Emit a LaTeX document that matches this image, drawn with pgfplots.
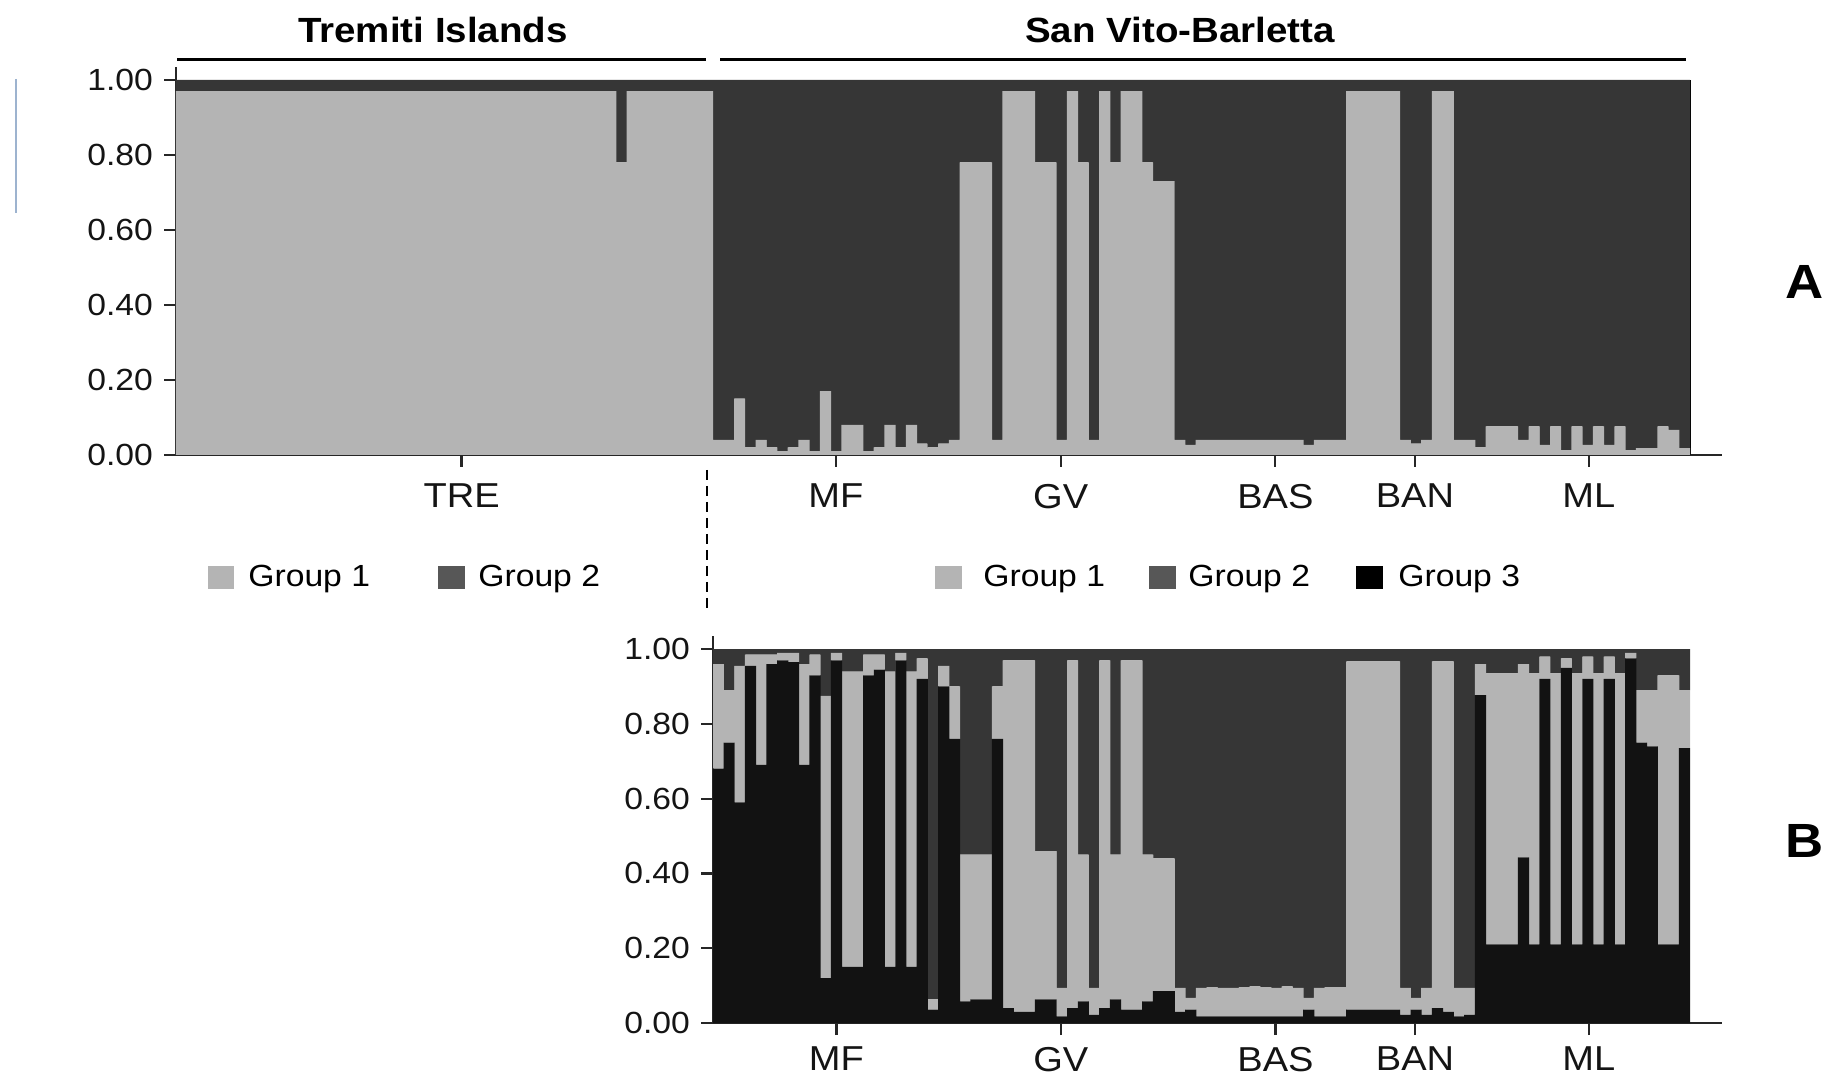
\documentclass[border=0pt]{standalone}
\usepackage{fontspec}
\setmainfont{Liberation Sans}[FakeStretch=1.1]
\usepackage{pgfplots}
\usepackage{pgfplotstable}
\pgfplotsset{compat=1.18}
\definecolor{gA}{HTML}{B4B4B4}
\definecolor{gB}{HTML}{363636}
\definecolor{gC}{HTML}{121212}
\definecolor{gBleg}{HTML}{575757}
\definecolor{axcol}{HTML}{262626}
\definecolor{bluish}{HTML}{9DB3CF}

% top panel: individual, Group 1, Group 2
\pgfplotstableread{
x g1 g2
0 0.97 0.03
1 0.97 0.03
2 0.97 0.03
3 0.97 0.03
4 0.97 0.03
5 0.97 0.03
6 0.97 0.03
7 0.97 0.03
8 0.97 0.03
9 0.97 0.03
10 0.97 0.03
11 0.97 0.03
12 0.97 0.03
13 0.97 0.03
14 0.97 0.03
15 0.97 0.03
16 0.97 0.03
17 0.97 0.03
18 0.97 0.03
19 0.97 0.03
20 0.97 0.03
21 0.97 0.03
22 0.97 0.03
23 0.97 0.03
24 0.97 0.03
25 0.97 0.03
26 0.97 0.03
27 0.97 0.03
28 0.97 0.03
29 0.97 0.03
30 0.97 0.03
31 0.97 0.03
32 0.97 0.03
33 0.97 0.03
34 0.97 0.03
35 0.97 0.03
36 0.97 0.03
37 0.97 0.03
38 0.97 0.03
39 0.97 0.03
40 0.97 0.03
41 0.78 0.22
42 0.97 0.03
43 0.97 0.03
44 0.97 0.03
45 0.97 0.03
46 0.97 0.03
47 0.97 0.03
48 0.97 0.03
49 0.97 0.03
50 0.04 0.96
51 0.04 0.96
52 0.15 0.85
53 0.02 0.98
54 0.04 0.96
55 0.02 0.98
56 0.01 0.99
57 0.02 0.98
58 0.04 0.96
59 0.01 0.99
60 0.17 0.83
61 0.01 0.99
62 0.08 0.92
63 0.08 0.92
64 0.01 0.99
65 0.02 0.98
66 0.08 0.92
67 0.02 0.98
68 0.08 0.92
69 0.03 0.97
70 0.02 0.98
71 0.03 0.97
72 0.04 0.96
73 0.78 0.22
74 0.78 0.22
75 0.78 0.22
76 0.04 0.96
77 0.97 0.03
78 0.97 0.03
79 0.97 0.03
80 0.78 0.22
81 0.78 0.22
82 0.04 0.96
83 0.97 0.03
84 0.78 0.22
85 0.04 0.96
86 0.97 0.03
87 0.78 0.22
88 0.97 0.03
89 0.97 0.03
90 0.78 0.22
91 0.73 0.27
92 0.73 0.27
93 0.04 0.96
94 0.027 0.973
95 0.04 0.96
96 0.04 0.96
97 0.04 0.96
98 0.04 0.96
99 0.04 0.96
100 0.04 0.96
101 0.04 0.96
102 0.04 0.96
103 0.04 0.96
104 0.04 0.96
105 0.027 0.973
106 0.04 0.96
107 0.04 0.96
108 0.04 0.96
109 0.97 0.03
110 0.97 0.03
111 0.97 0.03
112 0.97 0.03
113 0.97 0.03
114 0.04 0.96
115 0.03 0.97
116 0.04 0.96
117 0.97 0.03
118 0.97 0.03
119 0.04 0.96
120 0.04 0.96
121 0.02 0.98
122 0.076 0.924
123 0.076 0.924
124 0.076 0.924
125 0.04 0.96
126 0.076 0.924
127 0.027 0.973
128 0.076 0.924
129 0.013 0.987
130 0.076 0.924
131 0.027 0.973
132 0.076 0.924
133 0.027 0.973
134 0.076 0.924
135 0.013 0.987
136 0.018 0.982
137 0.018 0.982
138 0.076 0.924
139 0.067 0.933
140 0.018 0.982
}\topdata

% bottom panel: individual, Group 3 (black), Group 1 (light), Group 2 (dark)
\pgfplotstableread{
x g3 g1 g2
0 0.68 0.28 0.04
1 0.75 0.14 0.11
2 0.59 0.365 0.045
3 0.955 0.03 0.015
4 0.69 0.295 0.015
5 0.96 0.025 0.015
6 0.97 0.02 0.01
7 0.965 0.025 0.01
8 0.69 0.27 0.04
9 0.93 0.055 0.015
10 0.12 0.755 0.125
11 0.97 0.02 0.01
12 0.15 0.79 0.06
13 0.15 0.79 0.06
14 0.93 0.055 0.015
15 0.945 0.04 0.015
16 0.15 0.79 0.06
17 0.97 0.02 0.01
18 0.15 0.79 0.06
19 0.92 0.055 0.025
20 0.036 0.027 0.937
21 0.90 0.055 0.045
22 0.76 0.14 0.10
23 0.058 0.392 0.55
24 0.063 0.387 0.55
25 0.063 0.387 0.55
26 0.76 0.14 0.10
27 0.04 0.93 0.03
28 0.03 0.94 0.03
29 0.03 0.94 0.03
30 0.063 0.397 0.54
31 0.063 0.397 0.54
32 0.018 0.076 0.906
33 0.04 0.93 0.03
34 0.058 0.392 0.55
35 0.022 0.072 0.906
36 0.04 0.93 0.03
37 0.063 0.387 0.55
38 0.036 0.934 0.03
39 0.036 0.934 0.03
40 0.058 0.392 0.55
41 0.085 0.355 0.56
42 0.085 0.355 0.56
43 0.03 0.064 0.906
44 0.036 0.031 0.933
45 0.018 0.076 0.906
46 0.018 0.078 0.904
47 0.018 0.076 0.906
48 0.018 0.076 0.906
49 0.018 0.078 0.904
50 0.018 0.08 0.902
51 0.018 0.078 0.904
52 0.018 0.076 0.906
53 0.018 0.08 0.902
54 0.018 0.076 0.906
55 0.036 0.031 0.933
56 0.018 0.076 0.906
57 0.018 0.078 0.904
58 0.018 0.078 0.904
59 0.036 0.931 0.033
60 0.036 0.931 0.033
61 0.036 0.931 0.033
62 0.036 0.931 0.033
63 0.036 0.931 0.033
64 0.022 0.072 0.906
65 0.036 0.031 0.933
66 0.022 0.072 0.906
67 0.04 0.927 0.033
68 0.03 0.937 0.033
69 0.018 0.076 0.906
70 0.022 0.072 0.906
71 0.877 0.083 0.04
72 0.21 0.725 0.065
73 0.21 0.725 0.065
74 0.21 0.725 0.065
75 0.443 0.517 0.04
76 0.21 0.725 0.065
77 0.92 0.06 0.02
78 0.21 0.725 0.065
79 0.95 0.025 0.025
80 0.21 0.725 0.065
81 0.92 0.06 0.02
82 0.21 0.725 0.065
83 0.92 0.06 0.02
84 0.21 0.725 0.065
85 0.975 0.015 0.01
86 0.75 0.14 0.11
87 0.74 0.15 0.11
88 0.21 0.72 0.07
89 0.21 0.72 0.07
90 0.735 0.155 0.11
}\botdata

\pgfplotsset{
  struct/.style={
    scale only axis, ybar stacked, bar width=1.04, bar shift=0pt,
    ymin=0, ymax=1.035, enlargelimits=false,
    axis x line*=bottom, axis y line*=left,
    axis line style={line width=1.2pt, color=axcol},
    tick align=outside, major tick length=6pt,
    tick style={line width=1.1pt, color=axcol},
    ytick={0,0.2,0.4,0.6,0.8,1},
    yticklabels={0.00,0.20,0.40,0.60,0.80,1.00},
    yticklabel style={font=\fontsize{15.3}{18}\selectfont, text=black!92, xshift=-2pt},
    xticklabel style={font=\fontsize{17.3}{20}\selectfont, text=black!92},
    every axis plot/.append style={draw=none},
  }
}

\begin{document}
\begin{tikzpicture}
\path[use as bounding box] (0,0) rectangle (913.5pt,538.5pt);

% ---------- panel A ----------
\begin{axis}[struct,
  at={(88pt,311pt)}, anchor=south west,
  width=773pt, height=194.06pt,
  xmin=-0.5, xmax=143.5,
  xtick={26.1,60.96,81.9,101.9,114.9,131.1},
  xticklabels={TRE,MF,GV,BAS,BAN,ML},
  xticklabel style={yshift=-5pt}]
\addplot[fill=gA] table[x=x,y=g1]{\topdata};
\addplot[fill=gB] table[x=x,y=g2]{\topdata};
\foreach \b in {49.5,69.5,92.5,108.5,119.5,140.5}{
  \edef\tmp{\noexpand\draw[black, line width=0.8pt] (axis cs:\b,0) -- (axis cs:\b,1);}\tmp
}
\end{axis}

% ---------- panel B ----------
\begin{axis}[struct,
  at={(356.5pt,27pt)}, anchor=south west,
  width=504.5pt, height=193.5pt,
  xmin=-0.5, xmax=93.5,
  xtick={11,31.9,51.9,64.9,81.1},
  xticklabels={MF,GV,BAS,BAN,ML},
  xticklabel style={yshift=-2.5pt}]
\addplot[fill=gC] table[x=x,y=g3]{\botdata};
\addplot[fill=gA] table[x=x,y=g1]{\botdata};
\addplot[fill=gB] table[x=x,y=g2]{\botdata};
\foreach \b in {19.5,42.5,58.5,69.5,90.5}{
  \edef\tmp{\noexpand\draw[black!80, line width=0.6pt] (axis cs:\b,0) -- (axis cs:\b,1);}\tmp
}
\end{axis}

% ---------- annotations (pixel grid, y up) ----------
\begin{scope}[x=0.5pt,y=0.5pt]
\draw[bluish, line width=1pt] (16,998) -- (16,864);
\node[anchor=base, font=\fontsize{17.5}{20}\selectfont\bfseries] at (433,1034) {Tremiti Islands};
\node[anchor=base, font=\fontsize{17.5}{20}\selectfont\bfseries] at (1180,1034) {San Vito-Barletta};
\draw[black, line width=1.5pt] (177,1017) -- (706,1017);
\draw[black, line width=1.5pt] (720,1017) -- (1686,1017);
\draw[black, line width=1.4pt, dash pattern=on 5pt off 3pt] (707,607) -- (707,465);
% legend A
\fill[gA] (208,488) rectangle (234,511);
\node[anchor=base west, inner sep=0pt, font=\fontsize{15.3}{18}\selectfont] at (248,490) {Group 1};
\fill[gBleg] (438,488) rectangle (465,511);
\node[anchor=base west, inner sep=0pt, font=\fontsize{15.3}{18}\selectfont] at (478,490) {Group 2};
% legend B
\fill[gA] (935,488) rectangle (962,511);
\node[anchor=base west, inner sep=0pt, font=\fontsize{15.3}{18}\selectfont] at (983,490) {Group 1};
\fill[gBleg] (1149,488) rectangle (1176,511);
\node[anchor=base west, inner sep=0pt, font=\fontsize{15.3}{18}\selectfont] at (1188,490) {Group 2};
\fill[black] (1356,488) rectangle (1383,511);
\node[anchor=base west, inner sep=0pt, font=\fontsize{15.3}{18}\selectfont] at (1398,490) {Group 3};
% panel letters
\node[font=\fontsize{24}{28}\selectfont\bfseries] at (1805,795) {A};
\node[font=\fontsize{24}{28}\selectfont\bfseries] at (1805,236) {B};
\end{scope}
\end{tikzpicture}
\end{document}
